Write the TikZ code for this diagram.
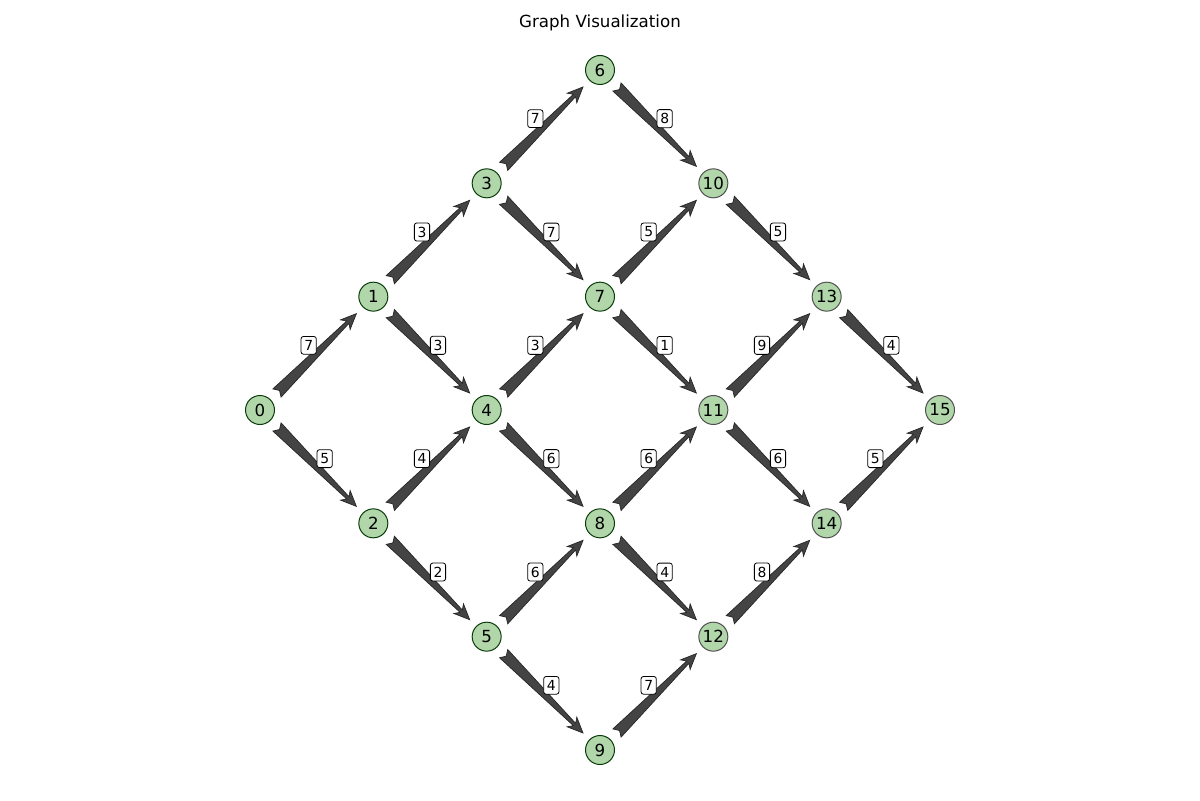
\documentclass[tikz,border=0pt]{standalone}
\usepackage{fontspec}
\setmainfont{DejaVu Sans}
\usetikzlibrary{calc}
\definecolor{nfill}{RGB}{176,214,170}
\definecolor{ngreen}{RGB}{10,60,10}
\definecolor{ngray}{RGB}{80,80,80}
\definecolor{afill}{RGB}{68,68,68}
\tikzset{
  gnode/.style={circle, fill=nfill, draw=ngreen, line width=0.5pt, minimum size=14.5pt, inner sep=0pt, font=\fontsize{8.33}{10}\selectfont},
  gnodeg/.style={gnode, draw=ngray},
  elabel/.style={draw=black, fill=white, rounded corners=1.2pt, line width=0.4pt, inner xsep=1.6pt, inner ysep=1.9pt, font=\fontsize{6.94}{8}\selectfont},
  arrowshape/.style={fill=afill, draw=black!85, line width=0.35pt, line join=miter},
  titlestyle/.style={font=\fontsize{8.33}{10}\selectfont}
}
% #1 source, #2 target, #3 label, #4 horizontal label offset
\newcommand\gedge[4]{%
  \filldraw[arrowshape]
    ($(#1)!12pt!(#2)!2.9pt!90:(#2)$) --
    ($(#2)!18pt!(#1)!0.8pt!-90:(#1)$) --
    ($(#2)!19.8pt!(#1)!3.4pt!-90:(#1)$) --
    ($(#2)!12pt!(#1)$) --
    ($(#2)!19.8pt!(#1)!3.4pt!90:(#1)$) --
    ($(#2)!18pt!(#1)!0.8pt!90:(#1)$) --
    ($(#1)!12pt!(#2)!2.9pt!-90:(#2)$) --
    ($(#1)!13.8pt!(#2)$) -- cycle;
  \node[elabel] (l#1#2) at ($(#1)!0.5!(#2)+(#4,8)$) {#3};
}
\begin{document}
\begin{tikzpicture}[x=0.5pt,y=0.5pt]
\useasboundingbox (0,0) rectangle (1200,800);
\node[titlestyle] (title) at (600,777) {Graph Visualization};
% grid: x = 260 + 113.33 i ; screen y = 70 + 113.33 j ; Y = 800 - screen y
\node[gnode] (n0) at (260,390) {0};
\node[gnode] (n1) at (373.33,503.33) {1};
\node[gnode] (n2) at (373.33,276.67) {2};
\node[gnode] (n3) at (486.67,616.67) {3};
\node[gnode] (n4) at (486.67,390) {4};
\node[gnode] (n5) at (486.67,163.33) {5};
\node[gnode] (n6) at (600,730) {6};
\node[gnode] (n7) at (600,503.33) {7};
\node[gnode] (n8) at (600,276.67) {8};
\node[gnode] (n9) at (600,50) {9};
\node[gnodeg] (n10) at (713.33,616.67) {10};
\node[gnodeg] (n11) at (713.33,390) {11};
\node[gnodeg] (n12) at (713.33,163.33) {12};
\node[gnodeg] (n13) at (826.67,503.33) {13};
\node[gnodeg] (n14) at (826.67,276.67) {14};
\node[gnodeg] (n15) at (940,390) {15};
\gedge{n0}{n1}{7}{-8}
\gedge{n0}{n2}{5}{8}
\gedge{n1}{n3}{3}{-8}
\gedge{n1}{n4}{3}{8}
\gedge{n2}{n4}{4}{-8}
\gedge{n2}{n5}{2}{8}
\gedge{n3}{n6}{7}{-8}
\gedge{n3}{n7}{7}{8}
\gedge{n4}{n7}{3}{-8}
\gedge{n4}{n8}{6}{8}
\gedge{n5}{n8}{6}{-8}
\gedge{n5}{n9}{4}{8}
\gedge{n6}{n10}{8}{8}
\gedge{n7}{n10}{5}{-8}
\gedge{n7}{n11}{1}{8}
\gedge{n8}{n11}{6}{-8}
\gedge{n8}{n12}{4}{8}
\gedge{n9}{n12}{7}{-8}
\gedge{n10}{n13}{5}{8}
\gedge{n11}{n13}{9}{-8}
\gedge{n11}{n14}{6}{8}
\gedge{n12}{n14}{8}{-8}
\gedge{n13}{n15}{4}{8}
\gedge{n14}{n15}{5}{-8}
\end{tikzpicture}
\end{document}
